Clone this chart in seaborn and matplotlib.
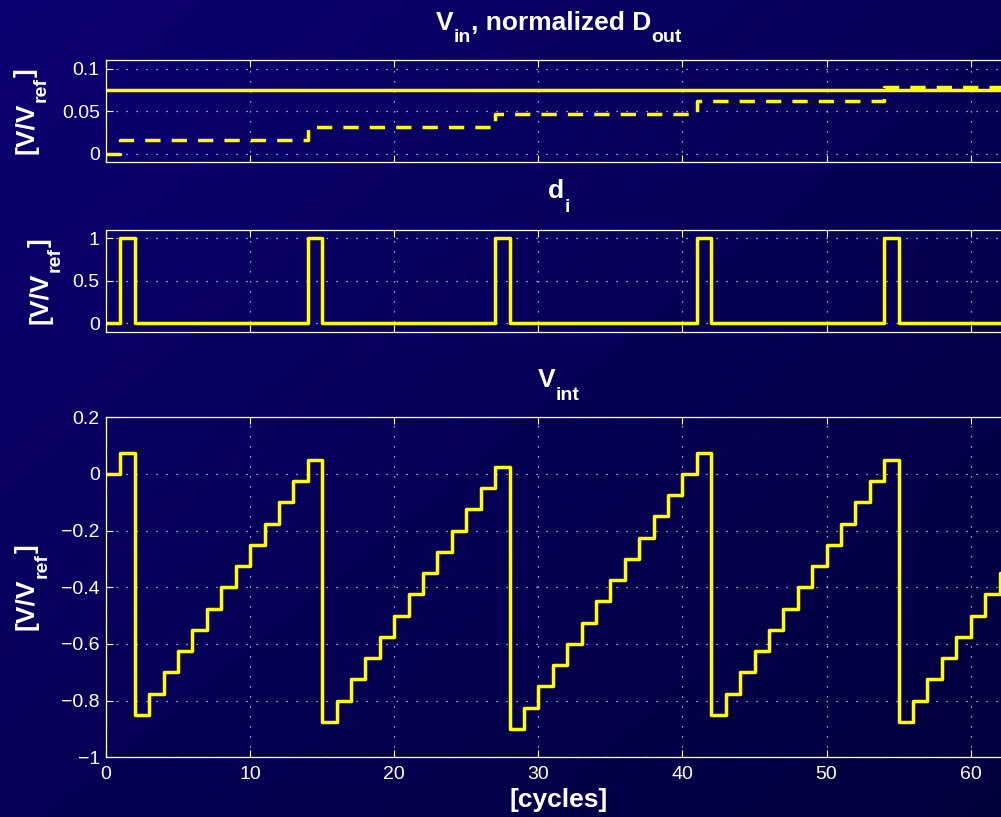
import numpy as np
import pandas as pd
import matplotlib
matplotlib.use("Agg")
import matplotlib.pyplot as plt
import seaborn as sns

# ---- data ----
cycles = list(range(64))

v_in = 0.075

d_out_norm = ([0.0]
              + [0.015625] * 13
              + [0.03125] * 13
              + [0.046875] * 14
              + [0.0625] * 13
              + [0.078125] * 10)

d_i = ([0, 1]
       + [0] * 12 + [1]
       + [0] * 12 + [1]
       + [0] * 13 + [1]
       + [0] * 12 + [1]
       + [0] * 9)

v_int = [0.0, 0.075,
         -0.85, -0.775, -0.7, -0.625, -0.55, -0.475, -0.4, -0.325, -0.25, -0.175, -0.1, -0.025, 0.05,
         -0.875, -0.8, -0.725, -0.65, -0.575, -0.5, -0.425, -0.35, -0.275, -0.2, -0.125, -0.05, 0.025,
         -0.9, -0.825, -0.75, -0.675, -0.6, -0.525, -0.45, -0.375, -0.3, -0.225, -0.15, -0.075, 0.0, 0.075,
         -0.85, -0.775, -0.7, -0.625, -0.55, -0.475, -0.4, -0.325, -0.25, -0.175, -0.1, -0.025, 0.05,
         -0.875, -0.8, -0.725, -0.65, -0.575, -0.5, -0.425, -0.35, -0.275]

x_ticks = [0, 10, 20, 30, 40, 50, 60]
y1_ticks = [0, 0.05, 0.1]
y2_ticks = [0, 0.5, 1]
y3_ticks = [-1, -0.8, -0.6, -0.4, -0.2, 0, 0.2]

# (text, is_subscript) pieces for the labels
title_top = [("V", False), ("in", True), (", normalized D", False), ("out", True)]
title_mid = [("d", False), ("i", True)]
title_bot = [("V", False), ("int", True)]
ylabel = [("[V/V", False), ("ref", True), ("]", False)]
xlabel = "[cycles]"

df_top = pd.DataFrame({"cycle": cycles, "dout": d_out_norm, "vin": [v_in] * len(cycles)})
df_mid = pd.DataFrame({"cycle": cycles, "d": d_i})
df_bot = pd.DataFrame({"cycle": cycles, "vint": v_int})

# ---- style ----
sns.set_style("ticks")
plt.rcParams["font.family"] = ["Liberation Sans", "DejaVu Sans"]

YELLOW = "#ffff00"
LW = 2.5
TXT = "white"
MAIN_SIZE = 19
SUB_SIZE = 14
SUB_DROP = 13  # px

fig = plt.figure(figsize=(10.01, 8.17), dpi=100)
FW, FH = 1001.0, 817.0


def rich_text(pieces, x_px, y_px, vertical=False):
    """MATLAB-like text with big, low subscripts. x_px, y_px: pixels from top-left.
    Horizontal: centred on x_px, baseline at y_px. Vertical: baseline at x_px, centred on y_px."""
    renderer = fig.canvas.get_renderer()
    items = []
    for s, sub in pieces:
        t = fig.text(0, 0, s, fontsize=SUB_SIZE if sub else MAIN_SIZE,
                     fontweight="bold", color=TXT, ha="left", va="baseline")
        items.append((t, sub, t.get_window_extent(renderer).width))
    total = sum(w for _, _, w in items)
    pos = -total / 2
    for t, sub, w in items:
        drop = SUB_DROP if sub else 0
        if vertical:
            px, py = x_px + drop, (FH - y_px) + pos
            t.set_rotation(90)
            t.set_rotation_mode("anchor")
        else:
            px, py = x_px + pos, (FH - y_px) - drop
        t.set_position((px / FW, py / FH))
        pos += w


# background gradient (navy, darker to the lower right)
bg = fig.add_axes([0, 0, 1, 1], zorder=-10)
gx, gy = np.meshgrid(np.linspace(0, 1, 200), np.linspace(0, 1, 200))
t = (gx + gy) / 2
c0 = np.array([12, 0, 114]) / 255
c1 = np.array([2, 0, 60]) / 255
img = c0[None, None, :] * (1 - t[..., None]) + c1[None, None, :] * t[..., None]
bg.imshow(img, aspect="auto", extent=[0, 1, 0, 1])
bg.axis("off")

left, width = 0.1059, 0.907
ax1 = fig.add_axes([left, 0.8013, width, 0.1252])
ax2 = fig.add_axes([left, 0.5940, width, 0.1245])
ax3 = fig.add_axes([left, 0.0731, width, 0.4162])

sns.lineplot(data=df_top, x="cycle", y="vin", ax=ax1, color=YELLOW, lw=LW,
             estimator=None, drawstyle="steps-post")
sns.lineplot(data=df_top, x="cycle", y="dout", ax=ax1, color=YELLOW, lw=LW,
             estimator=None, drawstyle="steps-post")
ax1.lines[-1].set_dashes((4.4, 3.2))
sns.lineplot(data=df_mid, x="cycle", y="d", ax=ax2, color=YELLOW, lw=LW,
             estimator=None, drawstyle="steps-post")
sns.lineplot(data=df_bot, x="cycle", y="vint", ax=ax3, color=YELLOW, lw=LW,
             estimator=None, drawstyle="steps-post")

ax1.set_ylim(-0.01, 0.11)
ax1.set_yticks(y1_ticks)
ax1.set_yticklabels(["0", "0.05", "0.1"])
ax2.set_ylim(-0.1, 1.1)
ax2.set_yticks(y2_ticks)
ax2.set_yticklabels(["0", "0.5", "1"])
ax3.set_ylim(-1, 0.2)
ax3.set_yticks(y3_ticks)
ax3.set_yticklabels(["\u22121", "\u22120.8", "\u22120.6", "\u22120.4", "\u22120.2", "0", "0.2"])

for ax in [ax1, ax2, ax3]:
    ax.set_facecolor("none")
    ax.set_xlim(0, 63)
    ax.set_xticks(x_ticks)
    ax.tick_params(direction="in", top=True, right=True, length=5, width=0.8,
                   colors=TXT, labelsize=14)
    ax.tick_params(axis="y", pad=4.5)
    ax.tick_params(axis="x", pad=6)
    ax.grid(True, color="white", linestyle=(0, (1, 7)), linewidth=0.9, alpha=0.85)
    for sp in ax.spines.values():
        sp.set_color("white")
        sp.set_linewidth(0.9)
    ax.set_xlabel("")
    ax.set_ylabel("")

ax1.tick_params(axis="x", labelbottom=False)
ax2.tick_params(axis="x", labelbottom=False)

# titles and axis labels
rich_text(title_top, 559, 29.5)
rich_text(title_mid, 559, 198.5)
rich_text(title_bot, 559, 387)
rich_text(ylabel, 33, 111, vertical=True)
rich_text(ylabel, 47, 281, vertical=True)
rich_text(ylabel, 34, 587, vertical=True)
fig.text(558.5 / FW, (FH - 807) / FH, xlabel, fontsize=MAIN_SIZE, fontweight="bold",
         color=TXT, ha="center", va="baseline")

fig.savefig("out.png", dpi=100, facecolor=fig.get_facecolor())
